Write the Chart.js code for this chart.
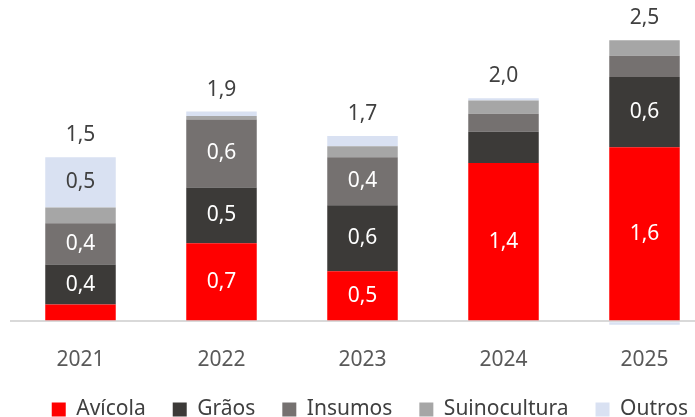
<!DOCTYPE html>
<html>
<head>
<meta charset="utf-8">
<script src="https://cdn.jsdelivr.net/npm/chart.js@4.4.1/dist/chart.umd.min.js"></script>
<style>
  html, body { margin: 0; padding: 0; background: #fff; overflow: hidden; }
  #wrap { position: absolute; left: 0; top: 0; width: 740px; height: 430px; }
</style>
</head>
<body>
<div id="wrap"><canvas id="chart" width="740" height="430"></canvas></div>
<script>
// values in R$ bi
const years = ['2021', '2022', '2023', '2024', '2025'];
const avicola = [0.15, 0.70, 0.45, 1.42, 1.56];
const graos = [0.36, 0.50, 0.59, 0.28, 0.63];
const insumos = [0.37, 0.61, 0.43, 0.16, 0.19];
const suinocultura = [0.14, 0.03, 0.10, 0.12, 0.14];
const outros = [0.45, 0.04, 0.09, 0.02, -0.03];

const FONT = 'Noto Sans';
const fmt = v => v.toFixed(1).replace('.', ',');

// draws the value inside each segment and the total above each bar
const barLabels = {
    id: 'barLabels',
    afterDatasetsDraw(chart) {
        const ctx = chart.ctx;
        const y = chart.scales.y;
        ctx.save();
        ctx.font = '21px "' + FONT + '"';
        ctx.textAlign = 'center';
        ctx.textBaseline = 'middle';
        chart.data.datasets.forEach((ds, i) => {
            const meta = chart.getDatasetMeta(i);
            meta.data.forEach((bar, j) => {
                const v = ds.data[j];
                if (v < 0.3) return;
                ctx.fillStyle = ds.labelColor;
                ctx.fillText(fmt(v), bar.x, (bar.y + bar.base) / 2);
            });
        });
        // totals
        const meta0 = chart.getDatasetMeta(0);
        years.forEach((yr, j) => {
            let total = 0, pos = 0;
            chart.data.datasets.forEach(ds => {
                total += ds.data[j];
                if (ds.data[j] > 0) pos += ds.data[j];
            });
            ctx.fillStyle = '#404040';
            ctx.fillText(fmt(total), meta0.data[j].x, y.getPixelForValue(pos) - 22);
        });
        ctx.restore();
    }
};

new Chart(document.getElementById('chart'), {
    type: 'bar',
    data: {
        labels: years,
        datasets: [
            {label: 'Avícola', data: avicola, backgroundColor: '#ff0000', labelColor: '#ffffff'},
            {label: 'Grãos', data: graos, backgroundColor: '#3c3a38', labelColor: '#ffffff'},
            {label: 'Insumos', data: insumos, backgroundColor: '#757170', labelColor: '#ffffff'},
            {label: 'Suinocultura', data: suinocultura, backgroundColor: '#a6a6a6', labelColor: '#ffffff'},
            {label: 'Outros', data: outros, backgroundColor: '#d9e1f2', labelColor: '#404040'}
        ]
    },
    options: {
        responsive: false,
        animation: false,
        layout: {padding: {left: 10, right: 25, top: 0, bottom: 0}},
        datasets: {bar: {categoryPercentage: 1, barPercentage: 0.5}},
        scales: {
            x: {
                stacked: true,
                grid: {display: false},
                border: {display: false},
                ticks: {color: '#595959', font: {family: FONT, size: 21}, padding: 14},
                afterFit: axis => { axis.height -= 15; }
            },
            y: {
                stacked: true,
                min: -0.04,
                max: 2.88,
                afterBuildTicks: axis => { axis.ticks = [{value: 0}]; },
                grid: {color: '#d9d9d9', lineWidth: 2, drawTicks: false},
                border: {display: false},
                ticks: {display: false}
            }
        },
        plugins: {
            tooltip: {enabled: false},
            legend: {
                position: 'bottom',
                align: 'end',
                labels: {
                    color: '#404040',
                    font: {family: FONT, size: 21},
                    boxWidth: 14,
                    boxHeight: 14,
                    padding: 27
                }
            }
        }
    },
    plugins: [barLabels]
});
</script>
</body>
</html>
